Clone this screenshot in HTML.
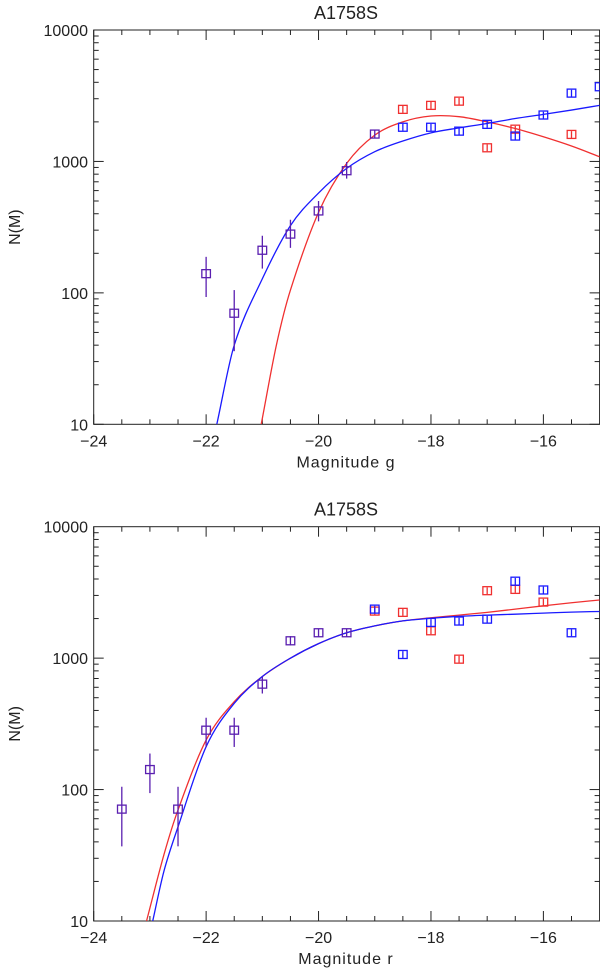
<!DOCTYPE html>
<html><head><meta charset="utf-8"><style>
html,body{margin:0;padding:0;background:#fff;}
svg{display:block;font-family:"Liberation Sans",sans-serif;}
</style></head><body>
<svg id="chart" width="600" height="975" viewBox="0 0 600 975"></svg>
<script>
// ---- data: panel g ----
const gMags = [-22,-21.5,-21,-20.5,-20,-19.5,-19];
const gBothN = [140,70,211,280,420,850,1615];
const gBothLo = [93,36,153,220,350,740,1500];
const gBothHi = [188,105,272,360,500,990,1750];
const gBlueMags = [-18.5,-18,-17.5,-17,-16.5,-16,-15.5,-15];
const gBlueN = [1820,1820,1700,1915,1560,2255,3310,3700];
const gRedMags = [-18.5,-18,-17.5,-17,-16.5,-15.5];
const gRedN = [2490,2670,2875,1270,1760,1605];
const gBlueCurveM = [-21.81,-21.5,-21,-20.5,-20,-19.5,-19,-18.5,-18,-17.5,-17,-16.5,-16,-15.5,-15];
const gBlueCurveN = [10,40,128,325,575,885,1186,1430,1650,1800,1945,2120,2280,2460,2670];
const gRedCurveM = [-21.02,-20.75,-20.5,-20,-19.5,-19,-18.5,-18,-17.5,-17,-16.5,-16,-15.5,-15];
const gRedCurveN = [10,40,105,410,966,1585,2000,2215,2190,2000,1780,1540,1310,1086];
// ---- data: panel r ----
const rMags = [-23.5,-23,-22.5,-22,-21.5,-21,-20.5,-20,-19.5];
const rBothN = [71,142,71,283,283,634,1355,1560,1560];
const rBothLo = [37,94,37,211,211,538,1250,1450,1450];
const rBothHi = [105,188,105,352,352,720,1470,1680,1680];
const rBlueMags = [-19,-18.5,-18,-17.5,-17,-16.5,-16,-15.5];
const rBlueN = [2360,1066,1870,1915,1980,3850,3300,1560];
const rRedMags = [-19,-18.5,-18,-17.5,-17,-16.5,-16];
const rRedN = [2280,2230,1615,982,3260,3335,2670];
const rBlueCurveM = [-22.95,-22.75,-22.5,-22,-21.5,-21,-20.5,-20,-19.5,-19,-18.5,-18,-17.5,-17,-16.5,-16,-15.5,-15];
const rBlueCurveN = [10,24,52,212,453,725,1000,1290,1560,1760,1920,2010,2080,2125,2160,2200,2240,2265];
const rRedCurveM = [-23.06,-22.75,-22.5,-22,-21.5,-21,-20.5,-20,-19.5,-19,-18.5,-18,-17.5,-17,-16.5,-16,-15.5,-15];
const rRedCurveN = [10,32,70,238,466,725,1000,1290,1560,1760,1920,2028,2125,2230,2360,2500,2640,2770];
const xTicks = [-24,-22,-20,-18,-16];
const yTicks = [10,100,1000,10000];

const NS="http://www.w3.org/2000/svg";
const svg=document.getElementById('chart');
function mk(tag,attrs,parent){const e=document.createElementNS(NS,tag);for(const k in attrs)e.setAttribute(k,attrs[k]);(parent||svg).appendChild(e);return e;}
const BLUE="#1a1aff",RED="#f03030",PURP="#5a1fb0";

function panel(id,top,title,xlabel,d){
  const L=93.7,R=599.6,T=top,B=top+394.3;
  const x=m=>L+(m+24)/9*(R-L);
  const y=n=>B-(Math.log10(n)-1)/3*(B-T);
  const g=mk('g',{});
  
  
  const cp=mk('clipPath',{id:id+'clip'},g);mk('rect',{x:L,y:T,width:R-L,height:B-T},cp);
  const t=mk('text',{x:346,y:T-11,'text-anchor':'middle','font-size':18,fill:'#222'},g);t.textContent=title;
  
  
  const fr=mk('rect',{x:L,y:T,width:R-L,height:B-T,fill:'none',stroke:'#222','stroke-width':1},g);
  
  
  for(let m=-24;m<=-15.01;m+=0.5){const maj=Math.abs(m-Math.round(m))<1e-6&&Math.round(m)%2===0;const len=maj?10:5;
    mk('line',{x1:x(m),x2:x(m),y1:B,y2:B-len,stroke:'#222'},g);mk('line',{x1:x(m),x2:x(m),y1:T,y2:T+len,stroke:'#222'},g);}
  xTicks.forEach(v=>{const tx=mk('text',{x:x(v),y:B+22,'text-anchor':'middle','font-size':16,fill:'#222'},g);tx.textContent='\u2212'+Math.abs(v);
    
    });
  for(let dec=10;dec<10000;dec*=10){for(let k=1;k<10;k++){const n=dec*k;const len=k===1?10:5;
    mk('line',{x1:L,x2:L+len,y1:y(n),y2:y(n),stroke:'#222'},g);mk('line',{x1:R,x2:R-len,y1:y(n),y2:y(n),stroke:'#222'},g);}}
  yTicks.forEach(v=>{const ty=mk('text',{x:88,y:y(v)+6,'text-anchor':'end','font-size':16,fill:'#222'},g);ty.textContent=v;
    
    });
  const xt=mk('text',{x:346,y:B+43,'text-anchor':'middle','font-size':16,fill:'#222','letter-spacing':'1'},g);xt.textContent=xlabel;
  
  
  const yc=(T+B)/2;
  const yt=mk('text',{x:20,y:yc,'text-anchor':'middle','font-size':16,fill:'#222',transform:`rotate(-90 20 ${yc})`},g);yt.textContent='N(M)';
  
  
  function curve(M,N,col,name){
    const p=M.map((m,i)=>[x(m),y(N[i])]);
    const n=p.length;
    const sl=p.map((q,i)=>{const a=p[Math.max(0,i-1)],b=p[Math.min(n-1,i+1)];return (b[1]-a[1])/(b[0]-a[0]);});
    let s=`M${p[0][0]},${p[0][1]}`;
    for(let i=0;i<n-1;i++){const p1=p[i],p2=p[i+1],dx=(p2[0]-p1[0])/3;
      s+=` C${p1[0]+dx},${p1[1]+sl[i]*dx} ${p2[0]-dx},${p2[1]-sl[i+1]*dx} ${p2[0]},${p2[1]}`;}
    const e=mk('path',{d:s,fill:'none',stroke:col,'stroke-width':1.3,'clip-path':`url(#${id}clip)`},g);
    
    
  }
  curve(d.rcM,d.rcN,RED,'red-fit-curve');
  curve(d.bcM,d.bcN,BLUE,'blue-fit-curve');
  function pts(M,N,lo,hi,col,name){
    M.forEach((m,i)=>{const cx=x(m),cy=y(N[i]);
      const l=lo?lo[i]:N[i]*0.94,h=hi?hi[i]:N[i]*1.06;
      const pg=mk('g',{'clip-path':`url(#${id}clip)`},g);
      
      
      mk('line',{x1:cx,x2:cx,y1:y(l),y2:y(h),stroke:col,'stroke-width':1.3},pg);
      mk('rect',{x:cx-4.3,y:cy-4,width:8.6,height:8,fill:'none',stroke:col,'stroke-width':1.3},pg);});
  }
  pts(d.rM,d.rN,null,null,RED,'red-data-point');
  pts(d.bM,d.bN,null,null,BLUE,'blue-data-point');
  pts(d.M,d.N,d.lo,d.hi,PURP,'shared-data-point');
}
panel('g-band',30,'A1758S','Magnitude g',{M:gMags,N:gBothN,lo:gBothLo,hi:gBothHi,bM:gBlueMags,bN:gBlueN,rM:gRedMags,rN:gRedN,bcM:gBlueCurveM,bcN:gBlueCurveN,rcM:gRedCurveM,rcN:gRedCurveN});
panel('r-band',526.7,'A1758S','Magnitude r',{M:rMags,N:rBothN,lo:rBothLo,hi:rBothHi,bM:rBlueMags,bN:rBlueN,rM:rRedMags,rN:rRedN,bcM:rBlueCurveM,bcN:rBlueCurveN,rcM:rRedCurveM,rcN:rRedCurveN});
</script>
</body></html>
